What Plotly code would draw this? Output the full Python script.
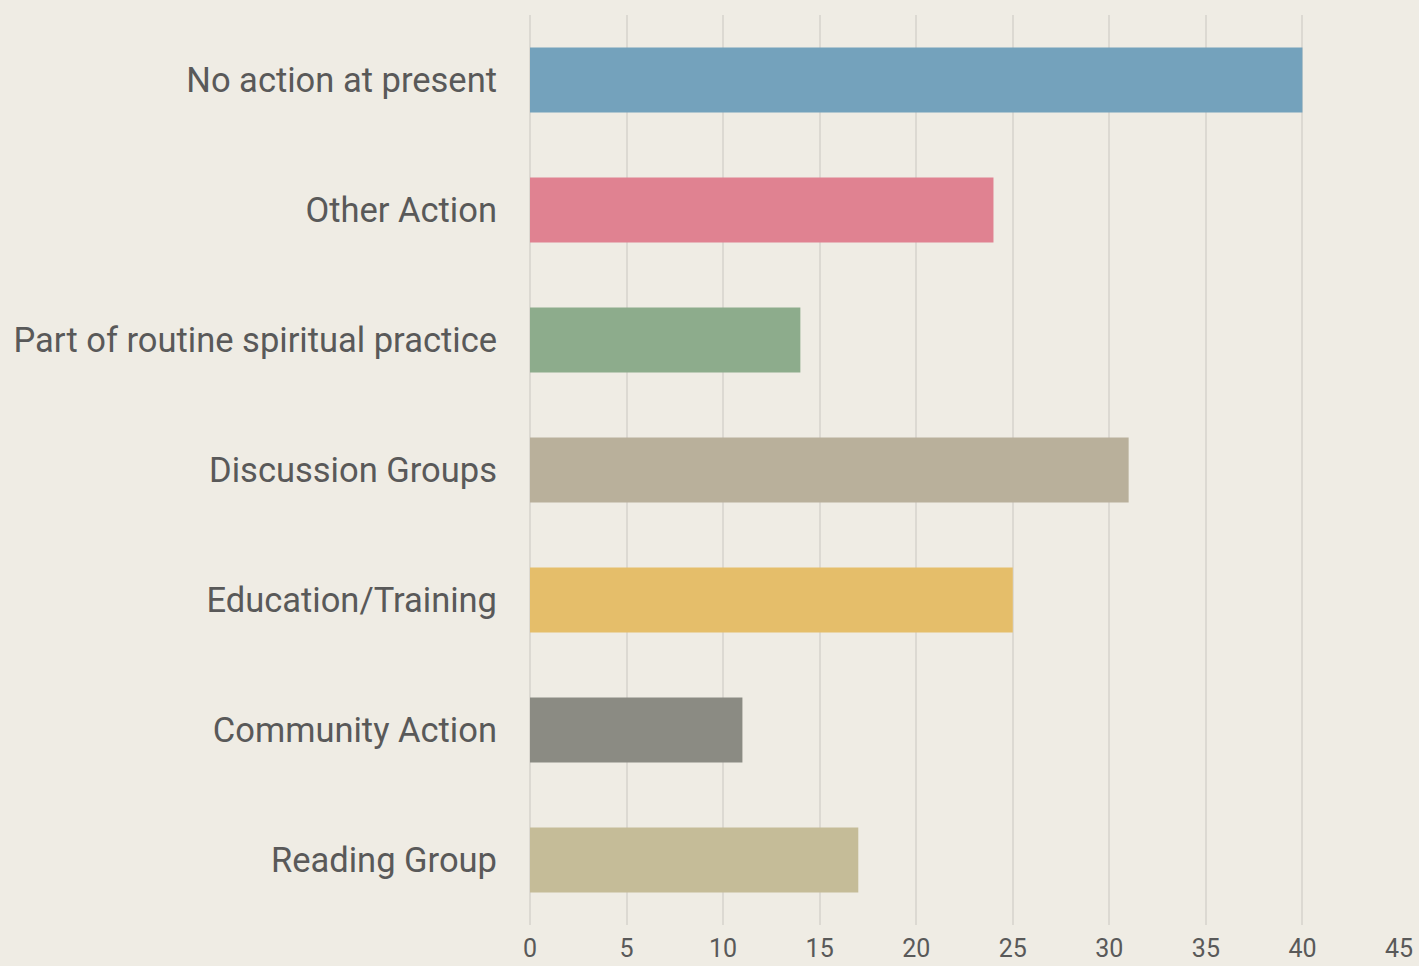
import plotly.graph_objects as go

categories = ["No action at present", "Other Action", "Part of routine spiritual practice",
              "Discussion Groups", "Education/Training", "Community Action", "Reading Group"]
values = [40, 24, 14, 31, 25, 11, 17]
colors = ["#74A2BC", "#E08291", "#8DAC8C", "#B9B09B", "#E5BE6A", "#8B8B83", "#C5BC98"]
x_ticks = [0, 5, 10, 15, 20, 25, 30, 35, 40, 45]

fig = go.Figure(go.Bar(
    x=values, y=categories, orientation="h",
    marker=dict(color=colors, line=dict(width=0)),
    width=0.5,
))

fig.update_layout(
    width=1419, height=966,
    margin=dict(l=530, r=20, t=15, b=41),
    paper_bgcolor="#EFECE4", plot_bgcolor="#EFECE4",
    showlegend=False,
    font=dict(family="Roboto, Liberation Sans, sans-serif", color="#595959"),
)
fig.update_xaxes(
    range=[0, 45], tickvals=x_ticks, showgrid=True, gridcolor="#DCD9D2", gridwidth=1.5,
    zeroline=True, zerolinecolor="#DCD9D2", zerolinewidth=1.5, automargin=False,
    showline=False, tickfont=dict(size=25), ticklabelstandoff=6,
)
fig.update_yaxes(
    autorange="reversed", showgrid=False, showline=False, zeroline=False, automargin=False,
    tickfont=dict(size=34.5), ticklabelstandoff=32,
)

fig.write_html("out.html", config={"displayModeBar": False},
               post_script="document.body.style.margin='0';document.body.style.background='#EFECE4';")
